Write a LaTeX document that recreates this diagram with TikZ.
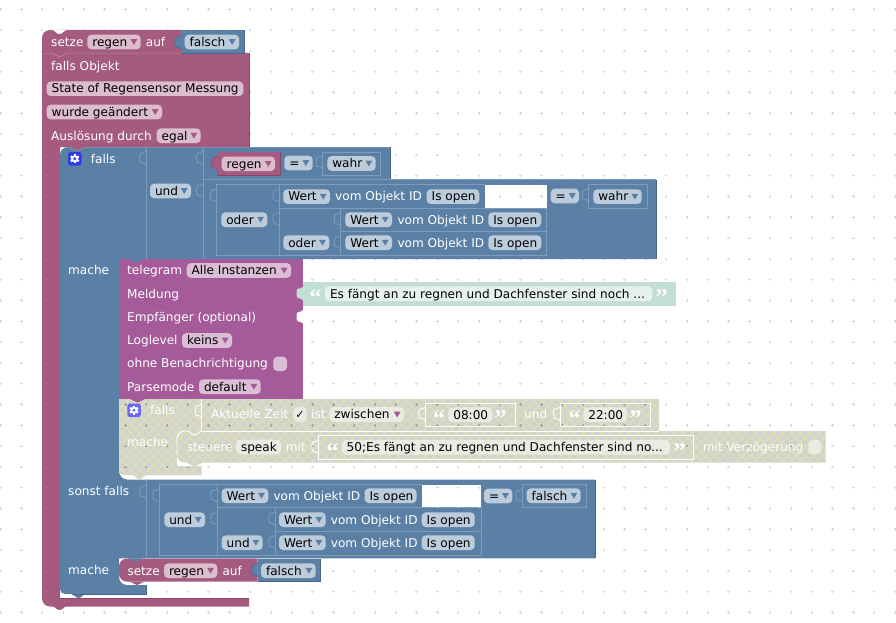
\documentclass[tikz,border=0pt]{standalone}
\usepackage{fontspec}
\setmainfont{DejaVu Sans}
\newfontfamily\qfont{Liberation Serif}
\definecolor{purpleB}{HTML}{A55B80}
\definecolor{purpleD}{HTML}{84496A}
\definecolor{purpleL}{HTML}{BE8DA6}
\definecolor{blueB}{HTML}{5B80A5}
\definecolor{blueD}{HTML}{496684}
\definecolor{blueL}{HTML}{7F9CBA}
\definecolor{teleB}{HTML}{A55B99}
\definecolor{greenB}{HTML}{C3DFD3}
\definecolor{grayB}{HTML}{D3D3CE}
\definecolor{hatchC}{HTML}{E8E8A0}
\definecolor{pinkC}{HTML}{DBBDCC}
\definecolor{blueC}{HTML}{BDCCDB}
\definecolor{teleC}{HTML}{DBBDD6}
\definecolor{disC}{HTML}{EBEBE4}
\definecolor{greenC}{HTML}{E7F2ED}
\definecolor{dotC}{HTML}{D6D6D6}
\definecolor{gearA}{HTML}{2E3DE0}
\definecolor{gearB}{HTML}{6A6AF0}
\newcount\nodeno
\tikzset{
  lbl/.style={anchor=base west,inner sep=0pt,font=\fontsize{12.1}{14}\selectfont,text=white},
  dlbl/.style={lbl,text=black},
  inner line/.style={draw=blueL,line width=.8pt},
  white line/.style={draw=white,line width=.9pt},
}
\newcommand\griddots{\foreach \i in {0,...,43}{\foreach \j in {0,...,29}{%
  \draw[dotC,line width=.7pt,shift={(\i*20.8+.5,\j*20.8+9.4)}] (-1.2,0)--(1.2,0) (0,-1.2)--(0,1.2);}}}
\newcommand\griddotsdark{\foreach \i in {5,...,40}{\foreach \j in {18,...,22}{%
  \draw[gray!75,line width=.7pt,shift={(\i*20.8+.5,\j*20.8+9.4)}] (-1.2,0)--(1.2,0) (0,-1.2)--(0,1.2);}}}
\newcommand\hatchlines{\foreach \k in {2,...,93}{%
  \draw[hatchC,line width=.45pt] (\k*9.05,393)--(\k*9.05+90,483) (\k*9.05,483)--(\k*9.05+90,393);}}
\newcommand\tx[3]{\global\advance\nodeno 1 \node[lbl] (t\the\nodeno) at (#1,#2+4.3) {#3};}
\newcommand\chip[6]{\global\advance\nodeno 1 \fill[#1,rounded corners=4pt] (#3,#5-7.3) rectangle (#4,#5+7.3);
  \node[dlbl] (t\the\nodeno) at (#3+4.8,#5+4.3) {#6};
  \fill[#2] (#4-10.2,#5-2.8) -- (#4-3.4,#5-2.8) -- (#4-6.8,#5+3) -- cycle;}
\newcommand\plainchip[5]{\global\advance\nodeno 1 \fill[#1,rounded corners=4pt] (#2,#4-7.3) rectangle (#3,#4+7.3);
  \node[dlbl] (t\the\nodeno) at (#2+4.8,#4+4.3) {#5};}
\newcommand\pch[4]{\chip{pinkC}{purpleB}{#1}{#2}{#3}{#4}}
\newcommand\bch[4]{\chip{blueC}{blueB}{#1}{#2}{#3}{#4}}
\newcommand\tch[4]{\chip{teleC}{teleB}{#1}{#2}{#3}{#4}}
\newcommand\gch[4]{\chip{disC}{teleB}{#1}{#2}{#3}{#4}}
% input tab
\newcommand\itab[4]{\path[#1,shift={(#2,#3)}] (0,2.5) .. controls (-.8,5.2) and (-3.6,3.2) .. (-5.3,4.6) .. controls (-6.9,6) and (-6.9,12.5) .. (-5.3,13.9) .. controls (-3.6,15.3) and (-.8,13.3) .. (0,16);}
\newcommand\ntab[4]{\fill[#1,shift={(#2,#3)}] (0,0) .. controls (3,0) and (4,#4) .. (7.5,#4) .. controls (11,#4) and (12,0) .. (15,0) -- cycle;}
\newcommand\gear[3]{\fill[#3,rounded corners=2.5pt] (#1,#2) rectangle (#1+13.5,#2+13.5);
  \begin{scope}[shift={(#1+6.75,#2+6.75)}]
    \foreach \a in {0,60,...,300}{\fill[white,rotate=\a] (-1.1,-4.6) rectangle (1.1,0);}
    \fill[white] (0,0) circle (3.6);
    \fill[#3] (0,0) circle (1.6);
  \end{scope}}
\newcommand\qL[3]{\global\advance\nodeno 1 \node[anchor=base west,inner sep=0pt,text=#3,font=\qfont\bfseries\fontsize{24}{24}\selectfont] (t\the\nodeno) at (#1,#2+12) {“};}
\newcommand\qR[3]{\global\advance\nodeno 1 \node[anchor=base west,inner sep=0pt,text=#3,font=\qfont\bfseries\fontsize{24}{24}\selectfont] (t\the\nodeno) at (#1,#2+12) {”};}
\newcommand\hole[4]{\fill[white] (#1,#2) rectangle (#3,#4);
  \begin{scope}\clip (#1,#2) rectangle (#3,#4); \griddots\end{scope}}
\begin{document}
\begin{tikzpicture}[x=1pt,y=-1pt]
\useasboundingbox (0,0) rectangle (896,623);
\fill[white] (0,0) rectangle (896,623);
\griddots

% purple hat block and outer block
\fill[purpleB] (42,53) -- (42,38) .. controls (42,33.6) and (45.6,30) .. (50,30) -- (182,30) -- (182,53) -- cycle;
\ntab{white}{52}{30}{4}
\fill[purpleB] (42,53) -- (249,53) -- (249,147) -- (60,147) -- (60,598) -- (249,598) -- (249,606.5) -- (50,606.5) .. controls (45.6,606.5) and (42,603) .. (42,598.5) -- cycle;
\ntab{purpleB}{52}{606}{4}
\draw[purpleD,line width=.5pt] (249,53) -- (249,147) (60,598.2)--(249,598.2);
\draw[purpleL,line width=.6pt] (42,53.2) -- (52,53.2) .. controls (55,53.2) and (56,57) .. (59.5,57) .. controls (63,57) and (64,53.2) .. (67,53.2) -- (249,53.2);
% falsch top
\fill[blueB] (181,30) rectangle (244,53);
\draw[blueD,line width=.6pt] (244,30.3) -- (244,53) -- (181,53);
\itab{fill=blueB,draw=blueD,line width=.5pt}{181}{33}{}

\tx{51}{42}{setze}
\pch{87.3}{140.7}{42}{regen}
\tx{145.7}{42}{auf}
\bch{184.7}{239}{42}{falsch}
\tx{51}{65.8}{falls Objekt}
\plainchip{pinkC}{46.7}{243.3}{88.7}{State of Regensensor Messung}
\pch{46.7}{162}{112}{wurde geändert}
\tx{51}{136}{Auslösung durch}
\pch{156.7}{200.7}{135.7}{egal}

% main blue block
\fill[blueB] (60,155) .. controls (60,150.6) and (63.6,147) .. (68,147) -- (390,147) -- (390,179.5) -- (656,179.5) -- (656,259) -- (119,259) -- (119,471) .. controls (119,475.4) and (122.6,479.5) .. (127,479.5) -- (595,479.5) -- (595,558.3) -- (119,558.3) -- (119,577) .. controls (119,581.4) and (122.6,585) .. (127,585) -- (146,585) -- (146,594) -- (65,594) .. controls (62.2,594) and (60,591.8) .. (60,589) -- cycle;
\ntab{purpleB}{70}{147}{4}
\ntab{blueB}{71}{594}{4}
\draw[blueD,line width=.6pt] (390,147.4)--(390,179.5) (656,180)--(656,259) (595,480)--(595,558.3) (146,585)--(146,594) -- (72,594);
\draw[blueL,line width=.6pt] (68,147.3)--(70,147.3) .. controls (73,147.3) and (74,151) .. (77.5,151) .. controls (81,151) and (82,147.3) .. (85,147.3) -- (390,147.3);

% blue rows, first condition
\draw[inner line] (146,147)--(146,259) (203,147)--(203,259) (203,179.5)--(656,179.5);
\itab{inner line}{146}{148.5}{}
\itab{inner line}{203}{148.5}{}
\itab{inner line}{203}{181.5}{}
% regen block
\fill[purpleB] (217.3,152.3) rectangle (280,175);
\itab{fill=purpleB,draw=purpleD,line width=.5pt}{217.3}{153.5}{}
\draw[purpleD,line width=.6pt] (280,152.3)--(280,175)--(217.3,175);
\pch{221.7}{275}{163.8}{regen}
\bch{284.3}{312.7}{163}{=}
\draw[inner line] (322.7,152.3) rectangle (380.7,175);
\itab{inner line}{322.7}{152.5}{}
\bch{327.3}{375.7}{163.5}{wahr}
% oder
\draw[inner line] (484.7,184.3) -- (216.7,184.3) -- (216.7,255.3) -- (546.7,255.3) -- (546.7,208.3) -- (279.3,208.3);
\draw[inner line] (279.3,184.3)--(279.3,255.3) (340.7,208.3)--(340.7,255.3) (340.7,231.5)--(546.7,231.5);
\itab{inner line}{216.7}{186}{}
\itab{inner line}{279.3}{186}{}
\itab{inner line}{279.3}{209.7}{}
\itab{inner line}{340.7}{209.7}{}
\itab{inner line}{340.7}{232.7}{}
\hole{484.7}{184.6}{546.7}{208}
\bch{283.3}{330}{196.6}{Wert}
\tx{335}{196.6}{vom Objekt ID}
\plainchip{blueC}{426.7}{479.3}{196.6}{Is open}
\bch{550.7}{579}{196}{=}
\draw[inner line] (588.7,184.3) rectangle (647.7,208.3);
\itab{inner line}{588.7}{185.5}{}
\bch{593.3}{641.7}{196.6}{wahr}
\bch{345.3}{392}{219.7}{Wert}
\tx{397.3}{219.7}{vom Objekt ID}
\plainchip{blueC}{488.3}{541.3}{219.7}{Is open}
\bch{345.3}{392}{242.7}{Wert}
\tx{397.3}{242.7}{vom Objekt ID}
\plainchip{blueC}{488.3}{541.3}{242.7}{Is open}
\bch{150}{191}{191}{und}
\bch{221.3}{267.3}{219.7}{oder}
\bch{283.3}{329.3}{242.7}{oder}
\gear{68}{152}{gearA}
\tx{90.7}{158.7}{falls}
\tx{68}{269.7}{mache}

% telegram
\fill[teleB] (119,259) rectangle (303,399);
\ntab{blueB}{129}{258.5}{4}
\itab{fill=white,draw=none}{303}{307.5}{}
\tx{127}{270.5}{telegram}
\tch{186.7}{291}{270.5}{Alle Instanzen}
\tx{127}{293.7}{Meldung}
\tx{127}{316.7}{Empfänger (optional)}
\tx{127}{340.4}{Loglevel}
\tch{182}{232}{340.5}{keins}
\tx{127}{363.6}{ohne Benachrichtigung}
\fill[teleC,rounded corners=4pt] (273.3,356.7) rectangle (287,371);
\tx{127}{386.7}{Parsemode}
\tch{199}{260.7}{386.7}{default}
% text block
\fill[greenB] (303,282.3) rectangle (676,305.7);
\itab{fill=greenB}{303}{284.2}{}
\plainchip{greenC}{325}{652.3}{293.7}{Es fängt an zu regnen und Dachfenster sind noch ...}
\qL{309.5}{293.7}{white}
\qR{655.5}{293.7}{white}

% disabled block
\begin{scope}
\def\disA{(119,399) -- (659,399) -- (659,431) -- (201.7,431) -- (201.7,475) -- (147,475) .. controls (144,475) and (143,479) .. (139.5,479) .. controls (136,479) and (135,475) .. (132,475) -- (124,475) .. controls (121.2,475) and (119,472.8) .. (119,470) -- cycle}
\fill[grayB] \disA;
\clip \disA;
\hatchlines
\griddotsdark
\end{scope}
% white gap below steuere
\fill[white] (177,455) rectangle (201.7,466);
\begin{scope}
\clip (177,455) rectangle (201.7,466); \griddots
\end{scope}
\begin{scope}
\def\steuere{(177,439) .. controls (177,434.6) and (180.6,431) .. (185,431) -- (187,431) .. controls (190,431) and (191,435) .. (194.5,435) .. controls (198,435) and (199,431) .. (202,431) -- (825.7,431) -- (825.7,462.7) -- (210,462.7) -- (202,462.7) .. controls (199,462.7) and (198,466.5) .. (194.5,466.5) .. controls (191,466.5) and (190,462.7) .. (187,462.7) -- (185,462.7) .. controls (180.6,462.7) and (177,459) .. (177,455) -- cycle}
\fill[grayB] \steuere;
\clip \steuere;
\hatchlines
\griddotsdark
\end{scope}
\draw[white line] (201.7,399)--(201.7,431) (202,431) -- (659,431);
\draw[white line] (202,431) .. controls (199,431) and (198,435) .. (194.5,435) .. controls (191,435) and (190,431) .. (187,431) -- (185,431) .. controls (180.6,431) and (177,434.6) .. (177,439) -- (177,455);
\ntab{teleB}{130}{399}{3.5}
\gear{127.3}{403.5}{gearB}
\tx{150}{410.5}{falls}
\tx{127}{441.7}{mache}
\itab{white line}{201.7}{401.5}{}
\tx{211}{414.5}{Aktuelle Zeit}
\plainchip{disC}{293.3}{306.7}{414.5}{}
\global\advance\nodeno 1
\node[dlbl] (t\the\nodeno) at (295.2,418.8) {\fontsize{11}{11}\selectfont ✓};
\tx{311}{414.5}{ist}
\gch{329.3}{404}{414.5}{zwischen}
\itab{white line}{425.3}{404.5}{}
\draw[white line] (425.3,403.3) rectangle (515,426.7);
\qL{433}{414.7}{white}
\plainchip{disC}{448.3}{492.3}{414.7}{08:00}
\qR{494.5}{414.7}{white}
\tx{524}{414.5}{und}
\itab{white line}{560}{404.5}{}
\draw[white line] (560,403.3) rectangle (650.7,426.7);
\qL{568.5}{414.7}{white}
\plainchip{disC}{583.3}{627}{414.7}{22:00}
\qR{629.5}{414.7}{white}
\tx{186.7}{447}{steuere}
\plainchip{disC}{236}{281}{447}{speak}
\tx{285.7}{447}{mit}
\itab{white line}{318.3}{437.5}{}
\draw[white line] (318.3,435.3) rectangle (693.3,459.3);
\qL{326.5}{447.2}{white}
\plainchip{disC}{341.7}{670}{447.2}{50;Es fängt an zu regnen und Dachfenster sind no...}
\qR{673.5}{447.2}{white}
\tx{702.7}{447}{mit Verzögerung}
\fill[disC,rounded corners=4pt] (808.3,440) rectangle (821,454);

% sonst falls
\tx{68}{490.7}{sonst falls}
\draw[inner line] (146,479.5)--(146,558.3);
\itab{inner line}{146}{482}{}
\draw[inner line] (422,484.3) -- (159.3,484.3) -- (159.3,555.3) -- (481,555.3) -- (481,507.7) -- (217.3,507.7);
\draw[inner line] (217.3,484.3)--(217.3,555.3) (275.3,507.7)--(275.3,555.3) (275.3,531)--(481,531);
\itab{inner line}{159.3}{486}{}
\itab{inner line}{217.3}{486}{}
\itab{inner line}{217.3}{509.3}{}
\itab{inner line}{275.3}{509.3}{}
\itab{inner line}{275.3}{532.5}{}
\hole{422}{484.6}{480.6}{507.4}
\bch{221.7}{268.3}{495.7}{Wert}
\tx{273.3}{495.7}{vom Objekt ID}
\plainchip{blueC}{364.5}{416.5}{495.7}{Is open}
\bch{484}{512.3}{496}{=}
\draw[inner line] (522.3,484.3) rectangle (586.7,507.7);
\itab{inner line}{522.3}{486}{}
\bch{526.7}{580.7}{495.7}{falsch}
\bch{164.3}{205}{519.7}{und}
\bch{279}{325.7}{519.7}{Wert}
\tx{330.7}{519.7}{vom Objekt ID}
\plainchip{blueC}{421.7}{474.7}{519.7}{Is open}
\bch{221.7}{262.7}{542.7}{und}
\bch{279}{325.7}{542.7}{Wert}
\tx{330.7}{542.7}{vom Objekt ID}
\plainchip{blueC}{421.7}{474.7}{542.7}{Is open}
\tx{68}{569.7}{mache}
% lower setze
\fill[purpleB] (119,566.5) .. controls (119,562.1) and (122.6,558.5) .. (127,558.5) -- (257.7,558.5) -- (257.7,581.7) -- (127,581.7) .. controls (122.6,581.7) and (119,578) .. (119,574) -- cycle;
\ntab{blueB}{128}{558.3}{3.5}
\ntab{purpleB}{129.5}{581.5}{3.5}
\fill[blueB] (257.7,558.5) rectangle (320,581.7);
\draw[blueD,line width=.6pt] (320,558.8)--(320,581.7)--(257.7,581.7);
\itab{fill=blueB,draw=blueD,line width=.5pt}{257.7}{560.5}{}
\tx{127.3}{570.7}{setze}
\pch{164}{217.3}{570.7}{regen}
\tx{222.3}{570.7}{auf}
\bch{261}{315.7}{570.7}{falsch}
\end{tikzpicture}
\end{document}
